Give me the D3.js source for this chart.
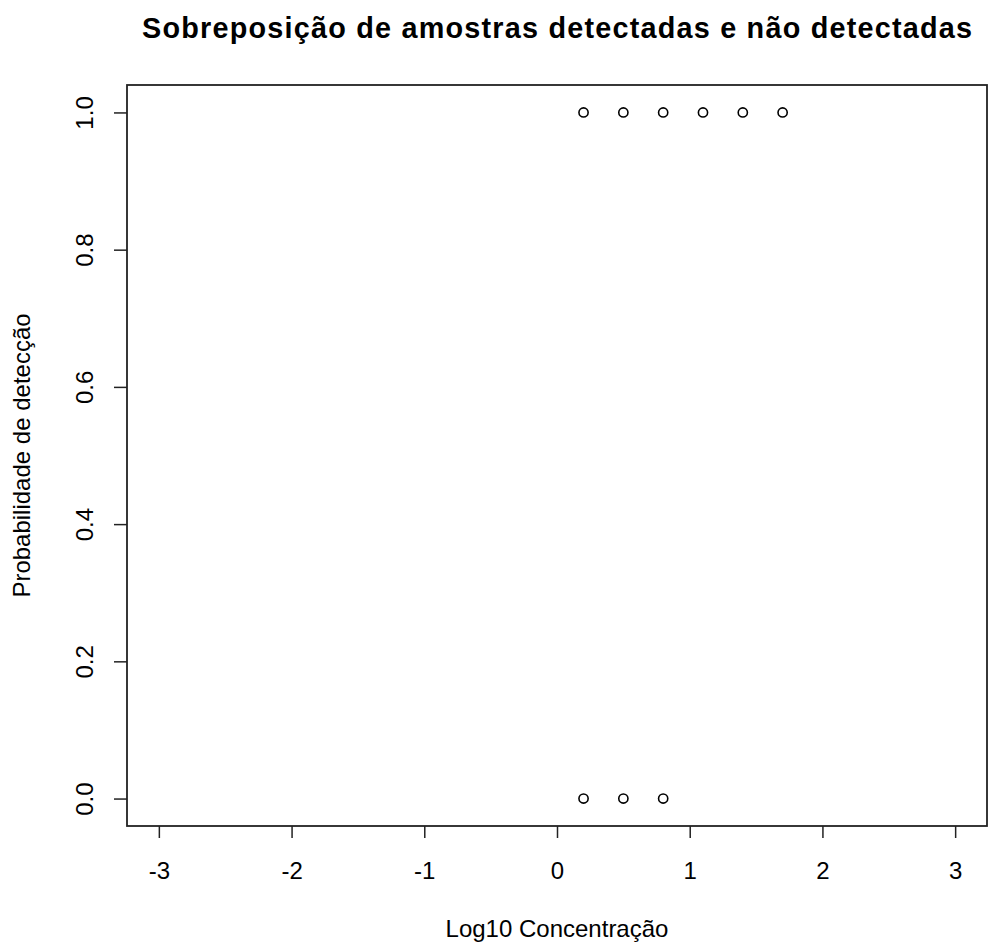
<!DOCTYPE html>
<html>
<head>
<meta charset="utf-8">
<script src="https://cdn.jsdelivr.net/npm/d3@7"></script>
<style>
  html, body { margin: 0; padding: 0; background: #fff; }
  svg { display: block; }
  text { font-family: "Liberation Sans", Arial, sans-serif; fill: #000; }
</style>
</head>
<body>
<svg id="chart" width="991" height="944"></svg>
<script>
// Detected samples (probability 1) and non-detected samples (probability 0)
const detectedX = [0.2, 0.5, 0.8, 1.1, 1.4, 1.7];
const notDetectedX = [0.2, 0.5, 0.8];
const xTicks = [-3, -2, -1, 0, 1, 2, 3];
const yTicks = [0.0, 0.2, 0.4, 0.6, 0.8, 1.0];
const titleText = "Sobreposição de amostras detectadas e não detectadas";
const xLabel = "Log10 Concentração";
const yLabel = "Probabilidade de detecção";

const svg = d3.select("#chart");
const box = { left: 127, right: 987, top: 85, bottom: 826 };
const FONT = "Liberation Sans, Arial, sans-serif";
const FS = 24;

const x = d3.scaleLinear().domain([-3.24, 3.24]).range([box.left, box.right]);
const y = d3.scaleLinear().domain([-0.04, 1.04]).range([box.bottom, box.top]);

// X axis: ticks with plain hyphen minus signs
const xAxis = svg.append("g").attr("transform", `translate(0,${box.bottom})`)
  .call(d3.axisBottom(x).tickValues(xTicks).tickFormat(d => String(d)).tickSize(12));
xAxis.select(".domain").remove();
xAxis.selectAll("line").attr("stroke", "#222").attr("stroke-width", 1.5);
xAxis.selectAll("text")
  .attr("font-size", FS).attr("font-family", FONT).attr("fill", "#000")
  .attr("y", 53).attr("dy", null);

// Y axis with rotated tick labels
const yAxis = svg.append("g").attr("transform", `translate(${box.left},0)`)
  .call(d3.axisLeft(y).tickValues(yTicks).tickFormat(d3.format(".1f")).tickSize(13));
yAxis.select(".domain").remove();
yAxis.selectAll("line").attr("stroke", "#222").attr("stroke-width", 1.5);
yAxis.selectAll("text")
  .attr("font-size", FS).attr("font-family", FONT).attr("fill", "#000")
  .attr("x", null).attr("dy", null)
  .attr("text-anchor", "middle")
  .attr("transform", "translate(-34,0) rotate(-90)");

// Plot frame
svg.append("rect")
  .attr("x", box.left).attr("y", box.top)
  .attr("width", box.right - box.left).attr("height", box.bottom - box.top)
  .attr("fill", "none").attr("stroke", "#222").attr("stroke-width", 1.8);

// Points
const pts = svg.append("g");
pts.selectAll("circle.det").data(detectedX).join("circle")
  .attr("class", "det")
  .attr("cx", d => x(d)).attr("cy", y(1))
  .attr("r", 4.6).attr("fill", "none").attr("stroke", "#000").attr("stroke-width", 1.6);
pts.selectAll("circle.nd").data(notDetectedX).join("circle")
  .attr("class", "nd")
  .attr("cx", d => x(d)).attr("cy", y(0))
  .attr("r", 4.6).attr("fill", "none").attr("stroke", "#000").attr("stroke-width", 1.6);

// Title and axis labels
const cx = (box.left + box.right) / 2;
svg.append("text").attr("x", cx).attr("y", 38)
  .attr("text-anchor", "middle").attr("font-size", 28.8).attr("font-weight", "bold")
  .attr("textLength", 830).attr("lengthAdjust", "spacing")
  .text(titleText);
svg.append("text").attr("x", cx).attr("y", 937)
  .attr("text-anchor", "middle").attr("font-size", FS)
  .text(xLabel);
svg.append("text")
  .attr("transform", `translate(30,${(box.top + box.bottom) / 2}) rotate(-90)`)
  .attr("text-anchor", "middle").attr("font-size", FS)
  .text(yLabel);
</script>
</body>
</html>
